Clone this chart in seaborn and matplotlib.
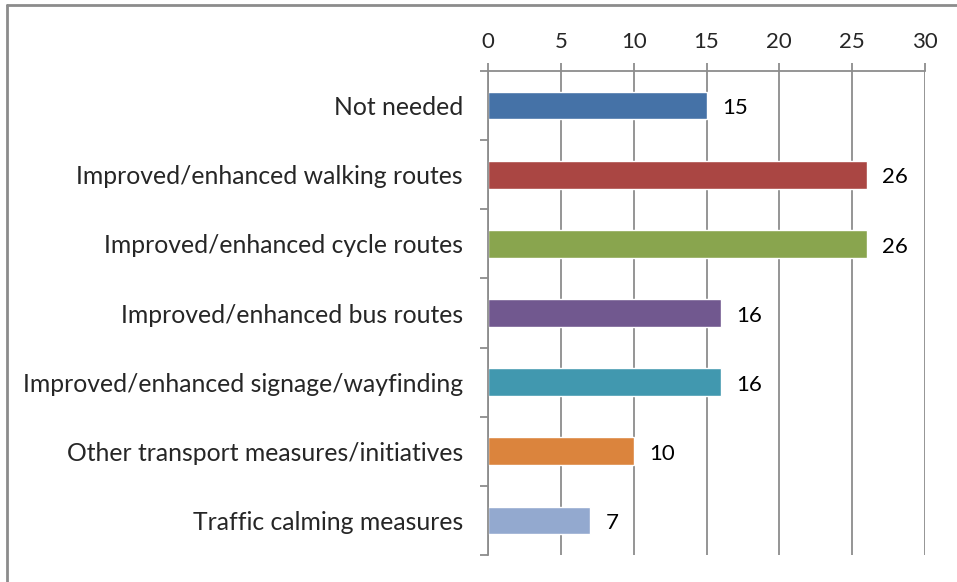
import matplotlib
matplotlib.use("Agg")
import matplotlib.pyplot as plt
import seaborn as sns
import pandas as pd

categories = [
    "Not needed",
    "Improved/enhanced walking routes",
    "Improved/enhanced cycle routes",
    "Improved/enhanced bus routes",
    "Improved/enhanced signage/wayfinding",
    "Other transport measures/initiatives",
    "Traffic calming measures",
]
values = [15, 26, 26, 16, 16, 10, 7]
colors = ["#4572A7", "#AA4643", "#89A54E", "#71588F", "#4198AF", "#DB843D", "#93A9CF"]
xticks = [0, 5, 10, 15, 20, 25, 30]

sns.set_style("white")
plt.rcParams["font.family"] = ["Lato", "DejaVu Sans"]

df = pd.DataFrame({"category": categories, "value": values})

fig = plt.figure(figsize=(9.57, 5.82), dpi=100)
ax = fig.add_axes([488 / 957, 1 - 555 / 582, (925 - 488) / 957, (555 - 71) / 582])

sns.barplot(data=df, y="category", x="value", hue="category", palette=colors,
            legend=False, width=0.4, ax=ax, saturation=1, orient="h")

grey = "#8c8c8c"
ax.set_xlim(0, 30)
ax.set_ylim(len(categories) - 0.5, -0.5)
ax.set_xticks(xticks)
ax.xaxis.tick_top()
ax.xaxis.set_label_position("top")
ax.set_xlabel("")
ax.set_ylabel("")
ax.grid(axis="x", color=grey, linewidth=1.3)
ax.set_axisbelow(True)
for s in ["right", "bottom"]:
    ax.spines[s].set_visible(False)
for s in ["top", "left"]:
    ax.spines[s].set_color(grey)
    ax.spines[s].set_linewidth(1.3)

ax.tick_params(axis="x", which="major", top=True, bottom=False, length=6, width=1.3,
               color=grey, labelsize=16, pad=8)
ax.set_yticks([i for i in range(len(categories))])
ax.set_yticklabels(categories)
ax.tick_params(axis="y", which="major", length=0, labelsize=17.8, pad=18)
ax.set_yticks([i - 0.5 for i in range(len(categories) + 1)], minor=True)
ax.tick_params(axis="y", which="minor", left=True, length=6, width=1.3, color=grey)

for i, v in enumerate(values):
    ax.text(v + 1.05, i + 0.04, str(v), va="center", ha="left", fontsize=16, color="black")

# outer frame (only left and top visible)
fig.add_artist(plt.Line2D([7 / 957, 7 / 957], [0, 1 - 5 / 582], transform=fig.transFigure,
                          color=grey, linewidth=2))
fig.add_artist(plt.Line2D([7 / 957, 1], [1 - 5 / 582, 1 - 5 / 582], transform=fig.transFigure,
                          color=grey, linewidth=2))

fig.savefig("out.png", dpi=100)
